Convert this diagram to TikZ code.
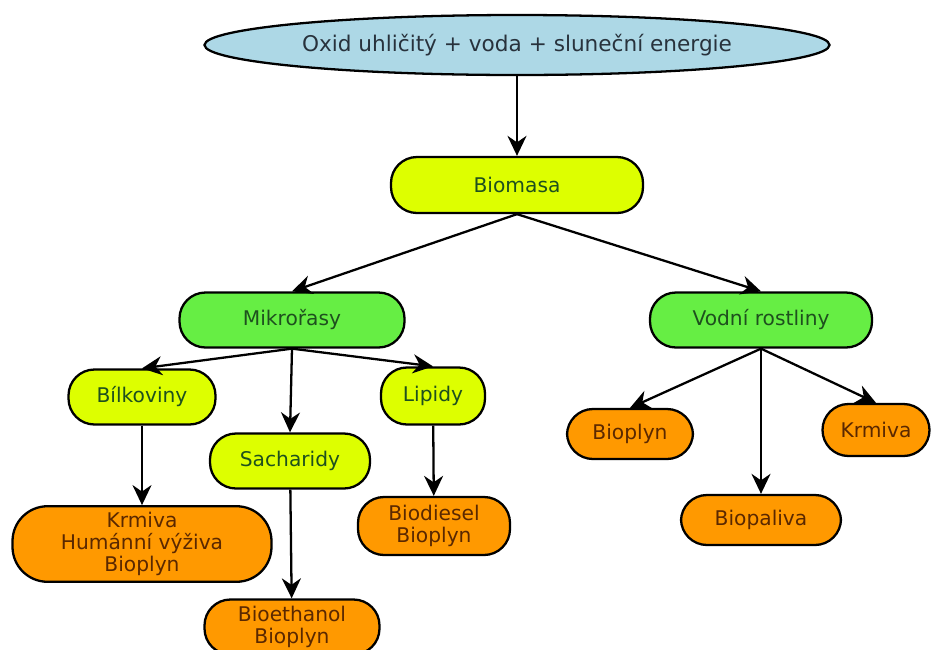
\documentclass[tikz,border=0pt]{standalone}
\usepackage{fontspec}
\setmainfont{DejaVu Sans}
\usepackage{tikz}
\usetikzlibrary{arrows.meta,shapes.geometric,positioning}
\definecolor{skyfill}{RGB}{173,216,230}
\definecolor{limefill}{RGB}{221,255,0}
\definecolor{greenfill}{RGB}{102,238,68}
\definecolor{orangefill}{RGB}{255,153,0}
\definecolor{graytext}{RGB}{40,50,60}
\definecolor{greentext}{RGB}{30,80,30}
\definecolor{browntext}{RGB}{90,40,0}

\begin{document}
\begin{tikzpicture}[
  x=0.2mm, y=-0.2mm,
  source/.style={ellipse, draw, line width=1.3pt, fill=skyfill, text=graytext, minimum width=125mm, minimum height=12mm, font=\fontsize{12.3}{14}\selectfont},
  pill/.style={rectangle, rounded corners=5.2mm, draw, line width=1.3pt, text=greentext, align=center, font=\fontsize{11.5}{12.6}\selectfont},
  lime/.style={pill, fill=limefill},
  leaf/.style={pill, fill=greenfill},
  product/.style={pill, fill=orangefill, text=browntext},
  flow/.style={line width=1.3pt, -{Stealth[length=4mm, width=3.8mm]}}
]
  \useasboundingbox (0,0) rectangle (933,650);
  \node[source] (sun) at (517,45) {Oxid uhličitý + voda + sluneční energie};
  \node[lime, minimum width=50.4mm, minimum height=11.2mm] (bio) at (517,185) {Biomasa};
  \node[leaf, minimum width=45mm, minimum height=11mm] (mikro) at (292,320) {Mikrořasy};
  \node[leaf, minimum width=44.4mm, minimum height=11mm] (vodni) at (761,320) {Vodní rostliny};
  \node[lime, minimum width=29.4mm, minimum height=11mm] (bilk) at (142,397) {Bílkoviny};
  \node[lime, minimum width=32mm, minimum height=11mm] (sach) at (290,461) {Sacharidy};
  \node[lime, minimum width=20.8mm, minimum height=11.4mm] (lipid) at (433,396) {Lipidy};
  \node[product, minimum width=51.8mm, minimum height=14.4mm, rounded corners=7mm] (krmivaA) at (142,544) {Krmiva\\Humánní výživa\\Bioplyn};
  \node[product, minimum width=35mm, minimum height=11mm] (ethanol) at (292,627) {Bioethanol\\Bioplyn};
  \node[product, minimum width=30.4mm, minimum height=11.6mm] (diesel) at (434,526) {Biodiesel\\Bioplyn};
  \node[product, minimum width=25.2mm, minimum height=10mm] (plyn) at (630,434) {Bioplyn};
  \node[product, minimum width=32mm, minimum height=10mm] (paliva) at (761,520) {Biopaliva};
  \node[product, minimum width=21.4mm, minimum height=10.4mm] (krmivaB) at (876,430) {Krmiva};
  \draw[flow] (sun) -- (bio);
  \draw[flow] (bio.south) -- (mikro.north);
  \draw[flow] (bio.south) -- (vodni.north);
  \draw[flow] (mikro.south) -- (bilk.north);
  \draw[flow] (mikro.south) -- (sach.north);
  \draw[flow] (mikro.south) -- (lipid.north);
  \draw[flow] (bilk) -- (krmivaA);
  \draw[flow] (sach) -- (ethanol);
  \draw[flow] (lipid) -- (diesel);
  \draw[flow] (vodni.south) -- (plyn.north);
  \draw[flow] (vodni.south) -- (paliva.north);
  \draw[flow] (vodni.south) -- (krmivaB.north);
\end{tikzpicture}
\end{document}
